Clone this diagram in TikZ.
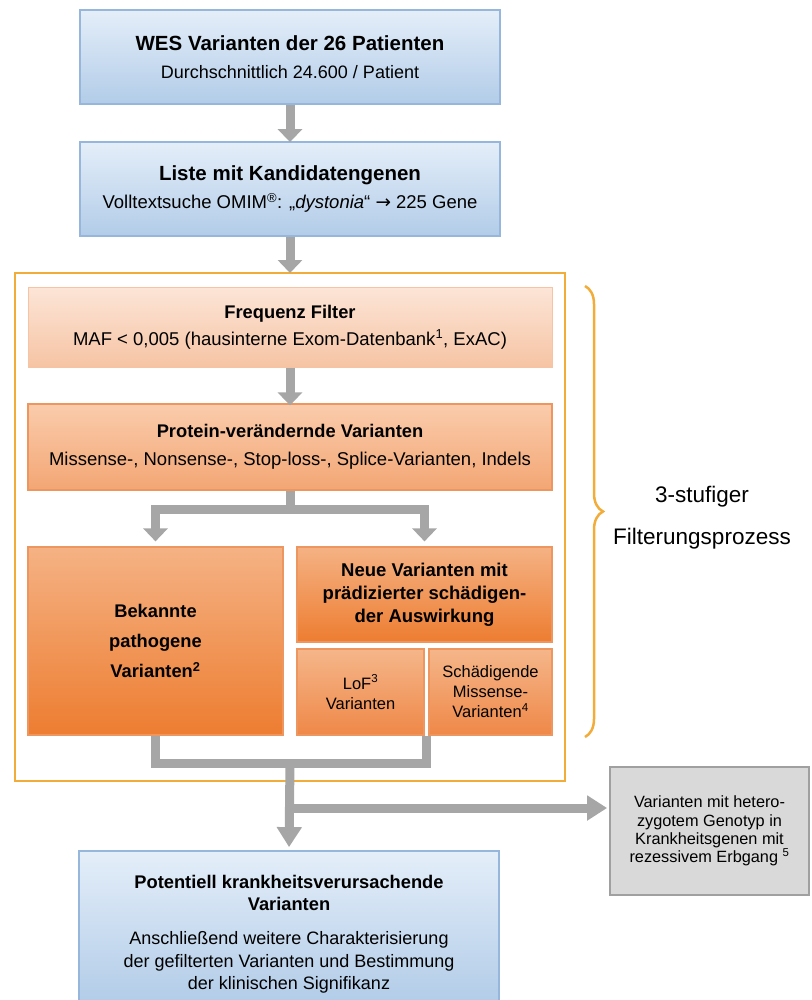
\documentclass[tikz,border=0pt]{standalone}
\usepackage{fontspec}
\setmainfont{Liberation Sans}
\newfontfamily\symfont{DejaVu Sans}
\usetikzlibrary{arrows.meta,decorations.pathreplacing,calc}

\definecolor{bluebord}{RGB}{150,182,220}
\definecolor{bluetop}{RGB}{228,238,249}
\definecolor{bluebot}{RGB}{178,204,232}
\definecolor{framecol}{RGB}{242,172,58}
\definecolor{arrgray}{RGB}{166,166,166}
\definecolor{grayfill}{RGB}{217,217,217}
\definecolor{graybord}{RGB}{160,160,160}
\definecolor{freqtop}{RGB}{252,229,215}
\definecolor{freqbot}{RGB}{246,196,164}
\definecolor{prottop}{RGB}{250,204,172}
\definecolor{protbot}{RGB}{243,166,116}
\definecolor{strongtop}{RGB}{245,178,132}
\definecolor{strongbot}{RGB}{237,125,49}
\definecolor{midtop}{RGB}{245,182,138}
\definecolor{midbot}{RGB}{239,136,72}
\definecolor{orbord}{RGB}{238,150,95}

\newcommand{\ttl}[1]{{\bfseries\fontsize{18.3}{22.5}\selectfont #1}}

\begin{document}
\begin{tikzpicture}[x=1pt,y=-1pt,
  box/.style={draw, inner sep=0pt, align=center, text=black},
  bluebox/.style={box, line width=1.8pt, draw=bluebord, top color=bluetop, bottom color=bluebot},
  freqbox/.style={box, line width=1pt, draw=freqbot, top color=freqtop, bottom color=freqbot},
  protbox/.style={box, line width=1.2pt, draw=orbord, top color=prottop, bottom color=protbot},
  strongbox/.style={box, line width=1.2pt, draw=orbord, top color=strongtop, bottom color=strongbot},
  midbox/.style={box, line width=1.2pt, draw=orbord, top color=midtop, bottom color=midbot},
  greybox/.style={box, line width=1.8pt, draw=graybord, fill=grayfill},
  framebox/.style={draw=framecol, line width=2pt, inner sep=0pt},
  conn/.style={draw=arrgray, line width=9pt, line join=miter},
  arr/.style={conn, -{Triangle[width=24pt,length=13pt]}},
  bigarr/.style={conn, -{Triangle[width=24pt,length=20pt]}},
]
\useasboundingbox (0,0) rectangle (811,1000);

% top boxes
\node[bluebox, minimum width=420pt, minimum height=94pt, font=\fontsize{18}{28}\selectfont] (wes) at (290,57)
  {{\bfseries\fontsize{20.5}{28}\selectfont WES Varianten der 26 Patienten}\\Durchschnittlich 24.600 / Patient};
\node[bluebox, minimum width=420pt, minimum height=94pt, font=\fontsize{18.5}{28}\selectfont] (cand) at (290,189)
  {{\bfseries\fontsize{20.5}{28}\selectfont Liste mit Kandidatengenen}\\Volltextsuche OMIM\textsuperscript{®}: „\textit{dystonia}“ {\symfont →} 225 Gene};

% filtering frame
\node[framebox, minimum width=550pt, minimum height=508pt] (frame) at (290,527) {};

\node[freqbox, minimum width=524pt, minimum height=80pt, font=\fontsize{18.5}{27}\selectfont] (freq) at (290,327)
  {{\bfseries\fontsize{18.3}{27}\selectfont Frequenz Filter}\\MAF < 0,005 (hausinterne Exom-Datenbank\textsuperscript{1}, ExAC)};
\node[protbox, minimum width=524pt, minimum height=86pt, font=\fontsize{18.5}{28}\selectfont] (prot) at (290,447)
  {{\bfseries\fontsize{18.3}{28}\selectfont Protein-verändernde Varianten}\\Missense-, Nonsense-, Stop-loss-, Splice-Varianten, Indels};

\node[strongbox, minimum width=255pt, minimum height=188pt, font=\bfseries\fontsize{18.3}{30}\selectfont] (bek) at (155.5,641)
  {Bekannte\\pathogene\\Varianten\textsuperscript{2}};
\node[strongbox, minimum width=255pt, minimum height=95pt, font=\bfseries\fontsize{18.5}{23}\selectfont] (neue) at (424.5,594.5)
  {Neue Varianten mit\\prädizierter schädigen-\\der Auswirkung};
\node[midbox, minimum width=127pt, minimum height=86pt, font=\fontsize{16.5}{20}\selectfont] (lof) at (360.5,692)
  {LoF\textsuperscript{3}\\Varianten};
\node[midbox, minimum width=123pt, minimum height=86pt, font=\fontsize{16.5}{20}\selectfont] (schad) at (490.5,692)
  {Schädigende\\Missense-\\Varianten\textsuperscript{4}};

% side note and result
\node[greybox, minimum width=199pt, minimum height=128pt, font=\fontsize{16.3}{18.3}\selectfont] (gray) at (709.5,831)
  {Varianten mit hetero-\\zygotem Genotyp in\\Krankheitsgenen mit\\rezessivem Erbgang \textsuperscript{5}};
\node[bluebox, minimum width=420pt, minimum height=152pt] (final) at (289,927) {};
\node[align=center, inner sep=0pt, font=\fontsize{18}{22.5}\selectfont] (finaltxt) at (289,934) {\ttl{Potentiell krankheitsverursachende}\\\ttl{Varianten}\\[11.5pt]Anschließend weitere Charakterisierung\\der gefilterten Varianten und Bestimmung\\der klinischen Signifikanz};

% brace with its label
\coordinate (brtop) at (585,286);
\coordinate (brbot) at (585,737);
\draw[framecol, line width=2.5pt, decorate, decoration={brace, amplitude=18pt, aspect=0.5}] (brtop) -- (brbot);
\node[align=center, inner sep=0pt, font=\fontsize{22.5}{42}\selectfont] (stufen) at (702,518)
  {3-stufiger\\Filterungsprozess};

% connectors
\draw[arr] (wes.south) -- ([yshift=-1pt]cand.north);
\draw[arr] (cand.south) -- ([yshift=-1pt]frame.north);
\draw[arr] (freq.south) -- ([yshift=-2pt]prot.north);

\coordinate (split) at (290,509);
\draw[conn] (prot.south) -- (split);
\draw[arr, shorten >=5pt] (split) -| (bek.north);
\draw[arr, shorten >=5pt] (split) -| (neue.north);

\coordinate (gaptop) at ($(lof.south east)!0.5!(schad.south west)$);
\coordinate (merge) at (290,763);
\draw[conn] (bek.south) -- (bek.south |- merge) -- (gaptop |- merge) -- (gaptop);
\draw[bigarr, shorten >=3pt] (merge) -- (final.north);
\coordinate (side) at (290,808);
\draw[bigarr, shorten >=2pt] (side) -- (side -| gray.west);
\end{tikzpicture}
\end{document}
